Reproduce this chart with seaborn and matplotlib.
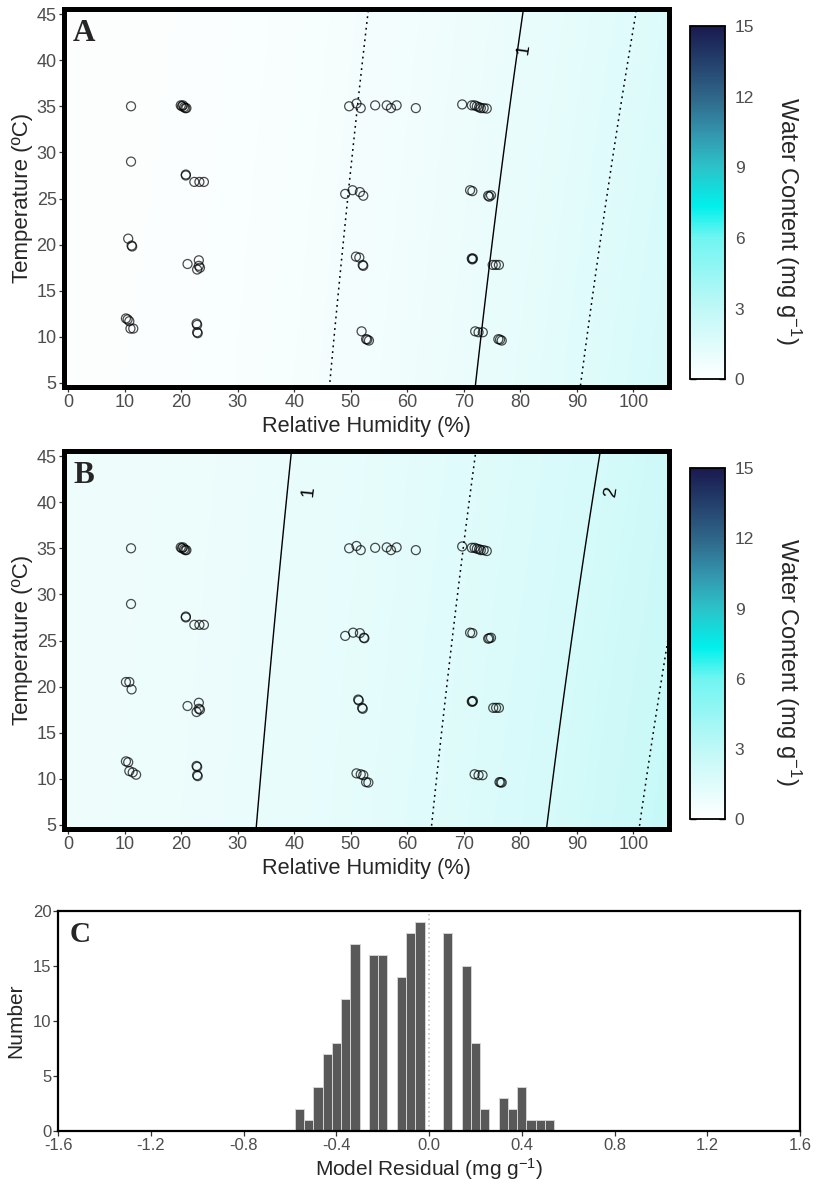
import numpy as np
import pandas as pd
import matplotlib
matplotlib.use("Agg")
import matplotlib.pyplot as plt
import seaborn as sns
from matplotlib.colors import LinearSegmentedColormap
from matplotlib.transforms import offset_copy

# ---------------- data ----------------
rh_a = [11.1, 19.9, 20.1, 20.3, 20.5, 20.7, 20.9,
        49.7, 51.0, 51.75, 54.3, 56.35, 57.1, 58.1, 61.5,
        69.7, 71.4, 71.9, 72.3, 72.7, 73.0, 73.5, 74.05,
        11.1, 20.8, 20.8, 22.3, 23.2, 24.0,
        49.0, 50.3, 51.6, 52.2, 71.1, 71.5, 74.3, 74.5, 74.8,
        10.6, 11.2, 11.3, 21.1, 23.1, 23.1, 22.8, 23.3,
        50.9, 51.5, 52.1, 52.2, 71.4, 71.5, 71.6, 75.1, 75.65, 76.2,
        10.2, 10.5, 10.8, 11.0, 11.5, 22.7, 22.8, 22.8, 22.9,
        51.9, 52.7, 52.9, 53.2, 72.0, 72.6, 73.35, 76.1, 76.4, 76.7]
temp_a = [35.0, 35.1, 35.0, 35.1, 34.9, 34.8, 34.8,
          35.0, 35.3, 34.8, 35.1, 35.1, 34.8, 35.1, 34.8,
          35.2, 35.1, 35.1, 35.0, 34.9, 34.8, 34.8, 34.75,
          29.0, 27.6, 27.5, 26.8, 26.8, 26.8,
          25.5, 25.9, 25.7, 25.3, 25.9, 25.8, 25.3, 25.2, 25.35,
          20.65, 19.9, 19.8, 17.9, 18.3, 17.7, 17.3, 17.5,
          18.7, 18.6, 17.8, 17.7, 18.5, 18.4, 18.5, 17.8, 17.8, 17.8,
          12.0, 11.9, 11.7, 10.9, 10.9, 11.45, 11.3, 10.5, 10.4,
          10.6, 9.75, 9.7, 9.6, 10.6, 10.5, 10.5, 9.75, 9.7, 9.6]

rh_b = [11.1, 19.9, 20.1, 20.3, 20.5, 20.7, 20.9,
        49.7, 51.0, 51.75, 54.3, 56.35, 57.1, 58.1, 61.5,
        69.7, 71.4, 71.9, 72.3, 72.7, 73.0, 73.5, 74.05,
        11.1, 20.8, 20.8, 22.3, 23.2, 24.0,
        49.0, 50.4, 51.6, 52.4, 52.3, 71.1, 71.5, 74.3, 74.5, 74.8,
        10.2, 10.8, 11.2, 21.1, 23.1, 23.1, 22.7, 23.3,
        51.3, 51.4, 52.0, 52.1, 71.4, 71.5, 71.6, 75.2, 75.7, 76.2,
        10.2, 10.6, 10.8, 11.4, 12.0, 22.7, 22.8, 22.8, 22.9,
        51.0, 51.75, 52.2, 52.7, 53.1, 71.9, 72.6, 73.3, 76.3, 76.5, 76.7]
temp_b = [35.0, 35.1, 35.0, 35.1, 34.9, 34.8, 34.8,
          35.0, 35.25, 34.8, 35.05, 35.1, 34.8, 35.1, 34.8,
          35.2, 35.05, 35.05, 34.95, 34.9, 34.8, 34.8, 34.7,
          28.96, 27.6, 27.5, 26.7, 26.7, 26.7,
          25.5, 25.85, 25.8, 25.25, 25.3, 25.85, 25.8, 25.2, 25.25, 25.3,
          20.5, 20.5, 19.7, 17.9, 18.25, 17.6, 17.25, 17.5,
          18.6, 18.5, 17.7, 17.6, 18.4, 18.35, 18.45, 17.7, 17.7, 17.7,
          11.9, 11.8, 10.85, 10.7, 10.45, 11.4, 11.3, 10.4, 10.3,
          10.6, 10.5, 10.4, 9.65, 9.6, 10.5, 10.4, 10.4, 9.65, 9.62, 9.6]

# fitted water-content surfaces: W = c0 + c1*RH + c2*RH^2 (coefficients at 5 degC and 45 degC)
coef_a_5 = [0.167, -0.00062, 1.689e-4]
coef_a_45 = [0.140, -0.00076, 1.4245e-4]
coef_b_5 = [0.8118, 0.000229, 1.629e-4]
coef_b_45 = [0.7797, 0.000259, 1.3535e-4]
solid_levels_a = [1.0]
dotted_levels_a = [0.5, 1.5]
solid_levels_b = [1.0, 2.0]
dotted_levels_b = [1.5, 2.5]

# residual histogram
resid_centers = [-0.56, -0.52, -0.48, -0.44, -0.40, -0.36, -0.32, -0.28, -0.24, -0.20,
                 -0.16, -0.12, -0.08, -0.04, 0.00, 0.04, 0.08, 0.12, 0.16, 0.20,
                 0.24, 0.28, 0.32, 0.36, 0.40, 0.44, 0.48, 0.52]
resid_counts = [2, 1, 4, 7, 8, 12, 17, 0, 16, 16,
                0, 14, 18, 19, 0, 0, 18, 0, 15, 8,
                2, 0, 3, 2, 4, 1, 1, 1]

x_ticks_ab = list(range(0, 101, 10))
y_ticks_ab = list(range(5, 46, 5))
cbar_ticks = [0, 3, 6, 9, 12, 15]
x_ticks_c = [-1.6, -1.2, -0.8, -0.4, 0.0, 0.4, 0.8, 1.2, 1.6]
y_ticks_c = [0, 5, 10, 15, 20]

# ---------------- style ----------------
sns.set_style("white")
plt.rcParams['font.family'] = ['Liberation Sans', 'DejaVu Sans']
plt.rcParams['mathtext.fontset'] = 'custom'
plt.rcParams['mathtext.rm'] = 'Liberation Sans'
plt.rcParams['mathtext.it'] = 'Liberation Sans:italic'
plt.rcParams['axes.unicode_minus'] = False

cmap = LinearSegmentedColormap.from_list(
    "wc", [(0.0, '#FFFFFF'), (0.2, '#BFF8F7'), (0.4, '#70F5F2'), (0.49, '#00F0EC'),
           (0.6, '#2BC3C9'), (0.7, '#3394AD'), (0.8, '#2F6689'), (0.9, '#24406D'),
           (1.0, '#1A1A4F')])

W, H = 817, 1187
fig = plt.figure(figsize=(W / 100, H / 100), dpi=100)


def frac(x0, y0, x1, y1):
    return [x0 / W, 1 - y1 / H, (x1 - x0) / W, (y1 - y0) / H]


ax_a = fig.add_axes(frac(64, 8.5, 669, 386.5))
ax_b = fig.add_axes(frac(64, 450.5, 669, 828.5))
cax_a = fig.add_axes(frac(690, 26, 725, 379.3))
cax_b = fig.add_axes(frac(690, 468.3, 725, 819.3))
ax_c = fig.add_axes(frac(58.3, 910.7, 800, 1130.7))

rh_grid = np.linspace(-3, 109, 450)
t_grid = np.linspace(3, 47, 220)
RHg, Tg = np.meshgrid(rh_grid, t_grid)


def surface(c5, c45):
    f = (Tg - 5.0) / 40.0
    c = [lo + (hi - lo) * f for lo, hi in zip(c5, c45)]
    return c[0] + c[1] * RHg + c[2] * RHg ** 2


tick_gray = '#4D4D4D'


def panel(ax, cax, rh, temp, c5, c45, solid_levels, dotted_levels, label_pos, label_dx, letter):
    Z = surface(c5, c45)
    im = ax.imshow(Z, extent=[rh_grid[0], rh_grid[-1], t_grid[0], t_grid[-1]],
                   origin='lower', aspect='auto', cmap=cmap, vmin=0, vmax=15,
                   interpolation='bilinear', zorder=0)
    ax.contour(RHg, Tg, Z, levels=dotted_levels, colors='black', linewidths=1.1,
               linestyles=[(0, (1.2, 2.6))], zorder=2)
    cs = ax.contour(RHg, Tg, Z, levels=solid_levels, colors='black', linewidths=1.0,
                    linestyles='solid', zorder=2)
    txts = ax.clabel(cs, manual=label_pos, inline=False, fmt='%g', fontsize=13.5,
                     colors='black')
    for t, dx in zip(txts, label_dx):
        t.set_transform(offset_copy(ax.transData, fig=fig, x=dx, y=0, units='dots'))
    sns.scatterplot(x=rh, y=temp, ax=ax, marker='o', s=42, facecolors='none',
                    edgecolor=(0, 0, 0, 0.7), linewidth=0.9, zorder=3, legend=False)
    ax.set_xlim(-0.76, 106.3)
    ax.set_ylim(4.62, 45.6)
    ax.set_xticks(x_ticks_ab)
    ax.set_yticks(y_ticks_ab)
    ax.tick_params(axis='both', which='both', direction='out', length=3.8, width=0.9,
                   color='#333333', labelcolor=tick_gray, labelsize=13, pad=1.5,
                   bottom=True, left=True)
    for sp in ax.spines.values():
        sp.set_visible(True)
        sp.set_linewidth(3.6)
        sp.set_color('black')
        sp.set_zorder(5)
    ax.set_xlabel('Relative Humidity (%)', fontsize=15.7)
    ax.set_ylabel('Temperature (ºC)', fontsize=16)
    ax.xaxis.set_label_coords(0.5, -0.078)
    ax.yaxis.set_label_coords(-0.052, 0.5)
    ax.text(0.0149, 0.915, letter, transform=ax.transAxes, fontfamily='Liberation Serif',
            fontweight='bold', fontsize=22.5, va='baseline', ha='left', zorder=6)

    cb = fig.colorbar(im, cax=cax)
    cb.set_ticks(cbar_ticks)
    cb.outline.set_linewidth(1.3)
    cb.outline.set_edgecolor('black')
    cax.tick_params(axis='y', direction='in', left=True, right=True, length=4.5,
                    width=1.0, color='black', labelcolor=tick_gray, labelsize=12.5, pad=7)
    cax.text(2.8, 0.45, 'Water Content (mg g$^{-1}$)', transform=cax.transAxes,
             rotation=270, ha='center', va='center', fontsize=17)


panel(ax_a, cax_a, rh_a, temp_a, coef_a_5, coef_a_45, solid_levels_a, dotted_levels_a,
      [(79.6, 41.2)], [6], 'A')
panel(ax_b, cax_b, rh_b, temp_b, coef_b_5, coef_b_45, solid_levels_b, dotted_levels_b,
      [(38.8, 41.2), (93.1, 41.2)], [21, 18], 'B')

# ---------------- panel C ----------------
resid_df = pd.DataFrame({"residual": resid_centers, "count": resid_counts})
bin_w = 0.04
sns.histplot(data=resid_df, x="residual", weights="count", binwidth=bin_w,
             binrange=(min(resid_centers) - bin_w / 2, max(resid_centers) + bin_w / 2),
             ax=ax_c, color='#595959', edgecolor='#d4d4d4', linewidth=0.7, alpha=1,
             zorder=2)
ax_c.axvline(0, color='#b5b5b5', linestyle=(0, (1, 2)), linewidth=1.1, zorder=1)
ax_c.set_xlim(-1.6, 1.6)
ax_c.set_ylim(0, 20)
ax_c.set_xticks(x_ticks_c)
ax_c.set_xticklabels([f'{v:.1f}' for v in x_ticks_c])
ax_c.set_yticks(y_ticks_c)
ax_c.tick_params(axis='both', direction='out', length=3.5, width=0.9, color='#333333',
                 labelcolor=tick_gray, labelsize=12, pad=1.5, bottom=True, left=True)
for sp in ax_c.spines.values():
    sp.set_visible(True)
    sp.set_linewidth(1.6)
    sp.set_color('black')
    sp.set_zorder(5)
ax_c.set_xlabel('Model Residual (mg g$^{-1}$)', fontsize=15)
ax_c.set_ylabel('Number', fontsize=15)
ax_c.xaxis.set_label_coords(0.5, -0.115)
ax_c.yaxis.set_label_coords(-0.045, 0.5)
ax_c.text(0.0158, 0.859, 'C', transform=ax_c.transAxes, fontfamily='Liberation Serif',
          fontweight='bold', fontsize=21, va='baseline', ha='left', zorder=6)

fig.savefig('out.png', dpi=100)
